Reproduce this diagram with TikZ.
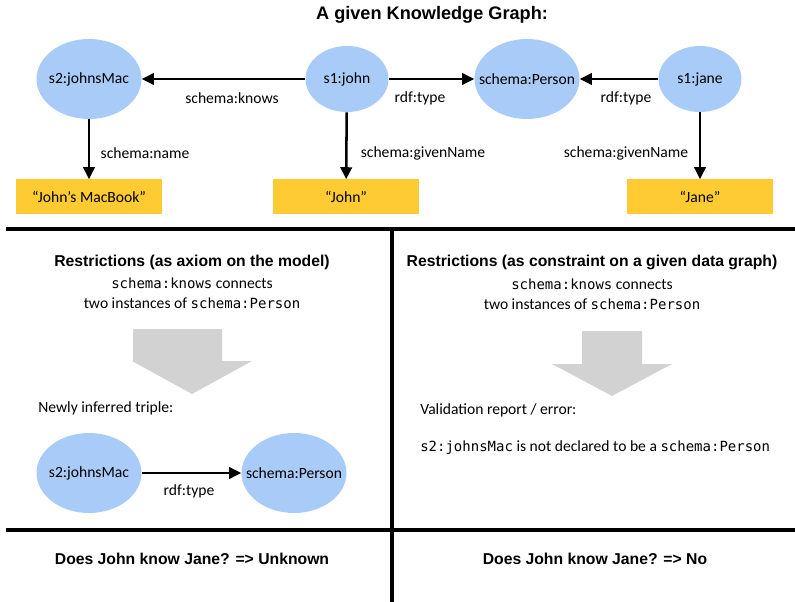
\documentclass[tikz,border=0pt]{standalone}
\usepackage{fontspec}
\setmainfont{Carlito}
\newfontfamily\hdfont{Liberation Sans}
\setmonofont{DejaVu Sans Mono}
\usetikzlibrary{shapes.geometric,arrows.meta}
\definecolor{nodeblue}{HTML}{A9CBF8}
\definecolor{litgold}{HTML}{FFCB33}
\definecolor{bigarrow}{HTML}{D2D2D2}
\newlength{\pxu}
\setlength{\pxu}{0.75pt}
\tikzset{
  res/.style={ellipse, fill=nodeblue, inner ysep=0pt, inner xsep=-9pt, font=\fontsize{11.7}{14}\selectfont},
  big/.style={res, minimum width=105\pxu, minimum height=80\pxu},
  small/.style={res, minimum width=83\pxu, minimum height=66\pxu},
  lit/.style={fill=litgold, minimum width=146\pxu, minimum height=35\pxu, inner sep=0pt, font=\fontsize{11.7}{14}\selectfont},
  edge/.style={line width=1.9pt, -{Triangle[length=9pt,width=8.5pt]}},
  elabel/.style={font=\fontsize{11.7}{14}\selectfont, inner sep=0pt},
  head/.style={font=\hdfont\bfseries\fontsize{11.8}{14}\selectfont, inner sep=0pt},
  plain/.style={font=\fontsize{11.7}{14}\selectfont, inner sep=0pt, align=center},
  divider/.style={line width=3pt},
  grayarrow/.style={fill=bigarrow, draw=none}
}
\newcommand{\mtt}[1]{{\ttfamily\fontsize{10.5}{14}\selectfont #1}}
\begin{document}
\begin{tikzpicture}[x=0.75pt,y=-0.75pt]
\useasboundingbox (0,0) rectangle (795,602);
% title
\node[head, font=\hdfont\bfseries\fontsize{13.6}{16}\selectfont] (title) at (432,15) {A given Knowledge Graph:};
% top graph
\node[big] (mac) at (89,79) {s2:johnsMac};
\node[small] (john) at (347,79) {s1:john};
\node[big] (person) at (527,79) {schema:Person};
\node[small] (jane) at (700,79) {s1:jane};
\node[lit] (macbook) at (89,197) {“John’s MacBook”};
\node[lit] (johnlit) at (346,197) {“John”};
\node[lit] (janelit) at (700,197) {“Jane”};
\draw[edge] (john) -- (mac);
\draw[edge] (john) -- (person);
\draw[edge] (jane) -- (person);
\draw[edge] (mac) -- (macbook);
\draw[edge] (john) -- (johnlit);
\draw[edge] (jane) -- (janelit);
\node[elabel] (lknows) at (232,98) {schema:knows};
\node[elabel] (ltype1) at (420,98) {rdf:type};
\node[elabel] (ltype2) at (626,98) {rdf:type};
\node[elabel] (lname) at (145,153) {schema:name};
\node[elabel] (lgn1) at (423,153) {schema:givenName};
\node[elabel] (lgn2) at (626,153) {schema:givenName};
% dividers
\draw[divider] (6,229) -- (795,229);
\draw[divider] (6,530) -- (795,530);
\draw[divider] (392,229) -- (392,602);
% left panel
\node[head] (hleft) at (192,262) {Restrictions (as axiom on the model)};
\node[plain] (tleft1) at (192,283) {\mtt{schema:knows} connects};
\node[plain] (tleft2) at (192,303) {two instances of \mtt{schema:Person}};
\fill[grayarrow] (133,329) -- (222,329) -- (222,361) -- (252,361) -- (192,394) -- (132,361) -- (133,361) -- cycle;
\node[plain, anchor=west] (newly) at (38,408) {Newly inferred triple:};
\node[big] (mac2) at (89,473) {s2:johnsMac};
\node[big] (person2) at (294,473) {schema:Person};
\draw[edge] (mac2) -- (person2);
\node[elabel] (ltype3) at (189,491) {rdf:type};
\node[head] (qleft) at (192,559) {Does John know Jane? => Unknown};
% right panel
\node[head] (hright) at (592,262) {Restrictions (as constraint on a given data graph)};
\node[plain] (tright1) at (592,284) {\mtt{schema:knows} connects};
\node[plain] (tright2) at (592,304) {two instances of \mtt{schema:Person}};
\fill[grayarrow] (582,331) -- (642,331) -- (642,364) -- (672,364) -- (612,396) -- (552,364) -- (582,364) -- cycle;
\node[plain, anchor=west] (valid) at (420,410) {Validation report / error:};
\node[plain, anchor=west] (err) at (420,448) {\mtt{s2:johnsMac} is not declared to be a \mtt{schema:Person}};
\node[head] (qright) at (595,559) {Does John know Jane? => No};
\end{tikzpicture}
\end{document}
